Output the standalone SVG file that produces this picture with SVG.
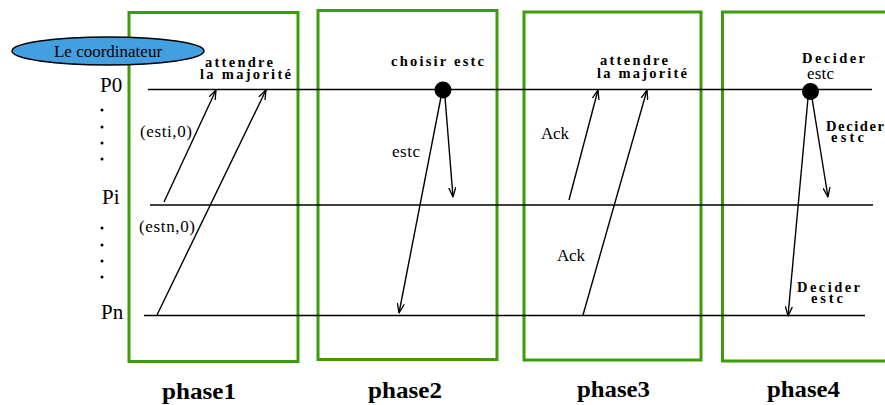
<svg xmlns="http://www.w3.org/2000/svg" width="885" height="405" viewBox="0 0 885 405">
  <style>
    .box { fill: none; stroke: #3c9c0a; stroke-width: 3; }
    .tl { stroke: #000; stroke-width: 1.5; fill: none; }
    .msg { stroke: #000; stroke-width: 1.4; fill: none; }
    .arr { marker-end: url(#head); }
    .lbl { font-family: "Liberation Serif", "DejaVu Serif", serif; font-size: 17px; fill: #000; }
    .proc { font-family: "Liberation Serif", "DejaVu Serif", serif; font-size: 21px; fill: #000; }
    .note { font-family: "Liberation Serif", "DejaVu Serif", serif; font-size: 14.5px; font-weight: bold; fill: #000; }
    .phase { font-family: "Liberation Serif", "DejaVu Serif", serif; font-size: 23px; font-weight: bold; fill: #000; }
  </style>
  <defs>
    <marker id="head" viewBox="0 0 10 8" refX="9.5" refY="4" markerWidth="10" markerHeight="8" markerUnits="userSpaceOnUse" orient="auto">
      <path d="M0,0.5 L9.5,4 L0,7.5" fill="none" stroke="#000" stroke-width="1.3"/>
    </marker>
  </defs>
  <rect width="885" height="405" fill="#fff"/>

  <!-- phase frames -->
  <g id="phase1">
    <rect class="box" x="129" y="12.5" width="169" height="349"/>
    <text class="phase" x="162" y="399" textLength="74" lengthAdjust="spacingAndGlyphs">phase1</text>
  </g>
  <g id="phase2">
    <rect class="box" x="318" y="10.5" width="179" height="349"/>
    <text class="phase" x="368" y="398" textLength="74" lengthAdjust="spacingAndGlyphs">phase2</text>
  </g>
  <g id="phase3">
    <rect class="box" x="524" y="12" width="177" height="348"/>
    <text class="phase" x="577" y="397" textLength="73" lengthAdjust="spacingAndGlyphs">phase3</text>
  </g>
  <g id="phase4">
    <rect class="box" x="722.5" y="12" width="190" height="349"/>
    <text class="phase" x="767" y="397" textLength="73" lengthAdjust="spacingAndGlyphs">phase4</text>
  </g>

  <!-- coordinator badge -->
  <g id="coordinator">
    <ellipse cx="108" cy="51" rx="96" ry="14" fill="#42a0e0" stroke="#000" stroke-width="1.5"/>
    <text class="lbl" x="108" y="57" text-anchor="middle" font-size="17.5">Le coordinateur</text>
  </g>

  <!-- process names and elision dots -->
  <g id="process-P0"><text class="proc" x="100" y="92">P0</text></g>
  <g id="process-Pi"><text class="proc" x="102" y="204">Pi</text></g>
  <g id="process-Pn"><text class="proc" x="101" y="319">Pn</text></g>
  <g id="ellipsis" fill="#000">
    <circle cx="102" cy="110" r="1.5"/>
    <circle cx="102" cy="127" r="1.5"/>
    <circle cx="102" cy="143" r="1.5"/>
    <circle cx="102" cy="159" r="1.5"/>
    <circle cx="102" cy="228" r="1.5"/>
    <circle cx="102" cy="245" r="1.5"/>
    <circle cx="102" cy="261" r="1.5"/>
    <circle cx="102" cy="277" r="1.5"/>
  </g>

  <!-- timelines and messages -->
  <g id="connectors">
    <line class="tl" x1="148" y1="89.5" x2="872" y2="89.5"/>
    <line class="tl" x1="150" y1="205" x2="873" y2="205"/>
    <line class="tl" x1="144" y1="315.5" x2="865" y2="315.5"/>

    <!-- phase 1: estimates sent to the coordinator -->
    <line class="msg arr" x1="164" y1="202" x2="216" y2="90"/>
    <line class="msg arr" x1="157" y1="315" x2="266" y2="90"/>
    <!-- phase 2: chosen estimate broadcast -->
    <line class="msg arr" x1="441" y1="97" x2="399" y2="313"/>
    <line class="msg arr" x1="445" y1="97" x2="453" y2="197"/>
    <!-- phase 3: acknowledgements -->
    <line class="msg arr" x1="569" y1="200" x2="598" y2="90"/>
    <line class="msg arr" x1="583" y1="315" x2="647" y2="90"/>
    <!-- phase 4: decision broadcast -->
    <line class="msg arr" x1="808" y1="98" x2="788" y2="316"/>
    <line class="msg arr" x1="812" y1="98" x2="828" y2="197"/>
  </g>

  <!-- coordinator events on P0 -->
  <g id="event-choose">
    <circle cx="443" cy="90" r="8.5" fill="#000"/>
    <text class="note" x="391" y="66" font-size="16" textLength="93" lengthAdjust="spacing">choisir estc</text>
  </g>
  <g id="event-decide">
    <circle cx="810.5" cy="91.5" r="8.5" fill="#000"/>
    <text class="note" x="802" y="63" font-size="16" textLength="63" lengthAdjust="spacing">Decider</text>
    <text class="lbl" x="807" y="79" font-size="15.5" textLength="27" lengthAdjust="spacing">estc</text>
  </g>

  <!-- message labels -->
  <g id="labels">
    <text class="lbl" x="140" y="137" textLength="52" lengthAdjust="spacing">(esti,0)</text>
    <text class="lbl" x="139" y="232" textLength="56" lengthAdjust="spacing">(estn,0)</text>
    <text class="note" x="205" y="67" textLength="68" lengthAdjust="spacing">attendre</text>
    <text class="note" x="200" y="79" textLength="91" lengthAdjust="spacing">la majorité</text>
    <text class="lbl" x="392" y="157" textLength="28" lengthAdjust="spacing">estc</text>
    <text class="note" x="600" y="65" textLength="68" lengthAdjust="spacing">attendre</text>
    <text class="note" x="597" y="78" textLength="90" lengthAdjust="spacing">la majorité</text>
    <text class="lbl" x="541" y="139" textLength="28" lengthAdjust="spacing">Ack</text>
    <text class="lbl" x="557" y="261" textLength="28" lengthAdjust="spacing">Ack</text>
    <text class="note" x="826" y="131" font-size="16" textLength="58" lengthAdjust="spacing">Decider</text>
    <text class="note" x="831" y="142" textLength="33" lengthAdjust="spacing">estc</text>
    <text class="note" x="797" y="292" font-size="16" textLength="63" lengthAdjust="spacing">Decider</text>
    <text class="note" x="811" y="303" textLength="32" lengthAdjust="spacing">estc</text>
  </g>
</svg>
